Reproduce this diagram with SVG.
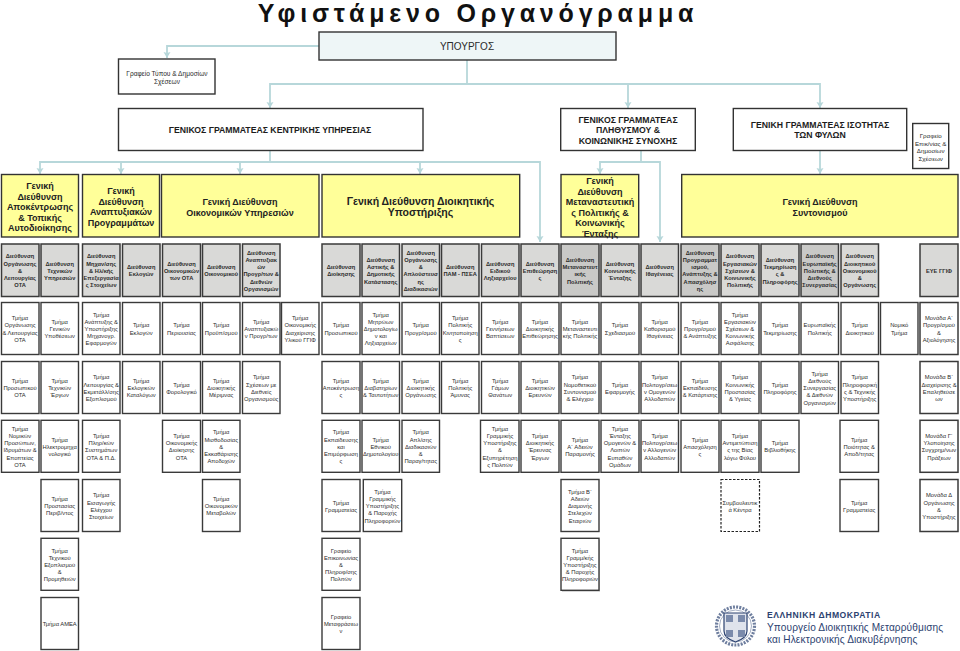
<svg xmlns="http://www.w3.org/2000/svg" width="960" height="651" viewBox="0 0 960 651">
<style>
text{font-family:"Liberation Sans",Arial,sans-serif;text-anchor:middle;fill:#2b2b2b}
.title{font-size:25px;font-weight:700;letter-spacing:4.8px;fill:#111}
.y9{font-size:9px;font-weight:700;fill:#222}
.y10{font-size:10.5px;font-weight:700;fill:#222}
.gg{font-size:8.7px;font-weight:700;fill:#1c1c1c}
.s{font-size:6.6px}
.t{font-size:5.8px}
.b{font-size:5.7px;font-weight:700}
.box{fill:#fff;stroke:#333;stroke-width:1.4}
.y{fill:#ffff99;stroke:#333;stroke-width:1.4}
.d{fill:#d9d9d7;stroke:#3a3a3a;stroke-width:1.5}
.dk{fill:#c9c9c7;stroke:#3a3a3a;stroke-width:1.5}
.r{fill:#fff;stroke:#3a3a3a;stroke-width:1.4}
.dash{fill:#fff;stroke:#222;stroke-width:1.2;stroke-dasharray:2.5 1.5}
.c{fill:none;stroke:#b7d7da;stroke-width:1.8}
.logo{text-anchor:start;fill:#2c4270}
</style>
<defs>
<marker id="a" markerUnits="userSpaceOnUse" markerWidth="8" markerHeight="8" refX="4" refY="7" orient="0" viewBox="0 0 8 8">
<path d="M.5 1L4 2L7.5 1L4 7Z" fill="#b7d7da"/>
</marker>
</defs>
<rect width="960" height="651" fill="#fff"/>
<text id="title" class="title" x="478" y="22">Υφιστάμενο Οργανόγραμμα</text>

<g id="connectors">
<path class="c" marker-end="url(#a)" d="M319 46H167V58"/>
<path class="c" d="M467 60V84"/>
<path class="c" marker-end="url(#a)" d="M467 84H270V108"/>
<path class="c" marker-end="url(#a)" d="M467 84H628V108"/>
<path class="c" marker-end="url(#a)" d="M628 84H820V108"/>
<path class="c" d="M270 150V162"/>
<path class="c" marker-end="url(#a)" d="M270 162H40V174"/>
<path class="c" marker-end="url(#a)" d="M121 162V174"/>
<path class="c" marker-end="url(#a)" d="M240 162V174"/>
<path class="c" marker-end="url(#a)" d="M270 162H420V174"/>
<path class="c" marker-end="url(#a)" d="M420 162H540V242"/>
<path class="c" d="M641 150V162"/>
<path class="c" marker-end="url(#a)" d="M641 162H600V174"/>
<path class="c" marker-end="url(#a)" d="M641 162H660V242"/>
<path class="c" marker-end="url(#a)" d="M820 150V174"/>
</g>

<g id="ypourgos"><rect x="319" y="32" width="297" height="28" fill="#eef6f7" stroke="#333" stroke-width="1.4"/><text x="467" y="50" font-size="10">ΥΠΟΥΡΓΟΣ</text></g>
<g id="press"><rect class="box" x="118.5" y="59" width="96.5" height="35"/><text class="s" x="167" y="75.5">Γραφείο Τύπου &amp; Δημοσίων<tspan x="167" dy="8">Σχέσεων</tspan></text></g>
<g id="gg-central"><rect class="box" x="118.5" y="108.5" width="304.5" height="42"/><text class="gg" x="270" y="132.5">ΓΕΝΙΚΟΣ ΓΡΑΜΜΑΤΕΑΣ ΚΕΝΤΡΙΚΗΣ ΥΠΗΡΕΣΙΑΣ</text></g>
<g id="gg-population"><rect class="box" x="560.7" y="108.5" width="134.6" height="42"/><text class="gg" x="628" y="122.5">ΓΕΝΙΚΟΣ ΓΡΑΜΜΑΤΕΑΣ<tspan x="628" dy="10.7">ΠΛΗΘΥΣΜΟΥ &amp;</tspan><tspan x="628" dy="10.7">ΚΟΙΝΩΝΙΚΗΣ ΣΥΝΟΧΗΣ</tspan></text></g>
<g id="gg-equality"><rect class="box" x="733.3" y="108.5" width="173.4" height="42"/><text class="gg" x="820" y="127.5">ΓΕΝΙΚΗ ΓΡΑΜΜΑΤΕΑΣ ΙΣΟΤΗΤΑΣ<tspan x="820" dy="10.7">ΤΩΝ ΦΥΛΩΝ</tspan></text></g>
<g id="press2"><rect class="box" x="912.7" y="123.5" width="36" height="45"/><text font-size="6.2" x="930.7" y="138">Γραφείο<tspan x="930.7" dy="7.7">Επικ/νίας &amp;</tspan><tspan x="930.7" dy="7.7">Δημοσίων</tspan><tspan x="930.7" dy="7.7">Σχέσεων</tspan></text></g>

<g id="gd1"><rect class="y" x="1.5" y="174.5" width="77" height="62.5"/><text class="y9" x="40" y="189">Γενική<tspan x="40" dy="10.5">Διεύθυνση</tspan><tspan x="40" dy="10.5">Αποκέντρωσης</tspan><tspan x="40" dy="10.5">&amp; Τοπικής</tspan><tspan x="40" dy="10.5">Αυτοδιοίκησης</tspan></text></g>
<g id="gd2"><rect class="y" x="82.5" y="174.5" width="77" height="62.5"/><text class="y9" x="121" y="194">Γενική<tspan x="121" dy="10.5">Διεύθυνση</tspan><tspan x="121" dy="10.5">Αναπτυξιακών</tspan><tspan x="121" dy="10.5">Προγραμμάτων</tspan></text></g>
<g id="gd3"><rect class="y" x="161.5" y="174.5" width="157.5" height="62.5"/><text class="y9" x="240" y="205">Γενική Διεύθυνση<tspan x="240" dy="10.5">Οικονομικών Υπηρεσιών</tspan></text></g>
<g id="gd4"><rect class="y" x="322" y="174.5" width="197.7" height="62.5"/><text class="y10" x="420.5" y="204.5">Γενική Διεύθυνση  Διοικητικής<tspan x="420.5" dy="11">Υποστήριξης</tspan></text></g>
<g id="gd5"><rect class="y" x="561" y="174.5" width="77.7" height="62.5"/><text class="y9" x="600" y="184">Γενική<tspan x="600" dy="10.5">Διεύθυνση</tspan><tspan x="600" dy="10.5">Μεταναστευτική</tspan><tspan x="600" dy="10.5">ς Πολιτικής &amp;</tspan><tspan x="600" dy="10.5">Κοινωνικής</tspan><tspan x="600" dy="10.5">Ένταξης</tspan></text></g>
<g id="gd6"><rect class="y" x="681.7" y="174.5" width="276.3" height="62.5"/><text class="y9" x="820" y="205">Γενική Διεύθυνση<tspan x="820" dy="10.5">Συντονισμού</tspan></text></g>

<g id="d1"><rect class="d" x="1.5" y="244" width="37.5" height="52.5"/><text class="b" x="20" y="258.4">Διεύθυνση<tspan x="20" dy="7.2">Οργάνωσης</tspan><tspan x="20" dy="7.2">&amp;</tspan><tspan x="20" dy="7.2">Λειτουργίας</tspan><tspan x="20" dy="7.2">ΟΤΑ</tspan></text></g>
<g id="d2"><rect class="d" x="41" y="244" width="37.5" height="52.5"/><text class="b" x="59.7" y="265.6">Διεύθυνση<tspan x="59.7" dy="7.2">Τεχνικών</tspan><tspan x="59.7" dy="7.2">Υπηρεσιών</tspan></text></g>
<g id="d3"><rect class="d" x="82.5" y="244" width="37.5" height="52.5"/><text class="b" x="101.2" y="258.4">Διεύθυνση<tspan x="101.2" dy="7.2">Μηχαν/σης</tspan><tspan x="101.2" dy="7.2">&amp; Ηλ/κής</tspan><tspan x="101.2" dy="7.2">Επεξεργασία</tspan><tspan x="101.2" dy="7.2">ς Στοιχείων</tspan></text></g>
<g id="d4"><rect class="d" x="122.5" y="244" width="37.5" height="52.5"/><text class="b" x="141.2" y="269.2">Διεύθυνση<tspan x="141.2" dy="7.2">Εκλογών</tspan></text></g>
<g id="d5"><rect class="d" x="162.5" y="244" width="38" height="52.5"/><text class="b" x="181.5" y="265.6">Διεύθυνση<tspan x="181.5" dy="7.2">Οικονομικών</tspan><tspan x="181.5" dy="7.2">των ΟΤΑ</tspan></text></g>
<g id="d6"><rect class="d" x="202.5" y="244" width="37.5" height="52.5"/><text class="b" x="221.2" y="269.2">Διεύθυνση<tspan x="221.2" dy="7.2">Οικονομικού</tspan></text></g>
<g id="d7"><rect class="d" x="242.5" y="244" width="37.5" height="52.5"/><text class="b" x="261.2" y="254.8">Διεύθυνση<tspan x="261.2" dy="7.2">Αναπτυξιακ</tspan><tspan x="261.2" dy="7.2">ών</tspan><tspan x="261.2" dy="7.2">Προγρ/των &amp;</tspan><tspan x="261.2" dy="7.2">Διεθνών</tspan><tspan x="261.2" dy="7.2">Οργανισμών</tspan></text></g>
<g id="d9"><rect class="d" x="322" y="244" width="38" height="52.5"/><text class="b" x="341" y="269.2">Διεύθυνση<tspan x="341" dy="7.2">Διοίκησης</tspan></text></g>
<g id="d10"><rect class="d" x="362" y="244" width="37.5" height="52.5"/><text class="b" x="380.7" y="262">Διεύθυνση<tspan x="380.7" dy="7.2">Αστικής &amp;</tspan><tspan x="380.7" dy="7.2">Δημοτικής</tspan><tspan x="380.7" dy="7.2">Κατάστασης</tspan></text></g>
<g id="d11"><rect class="d" x="402" y="244" width="37.5" height="52.5"/><text class="b" x="420.7" y="254.8">Διεύθυνση<tspan x="420.7" dy="7.2">Οργάνωσης</tspan><tspan x="420.7" dy="7.2">&amp;</tspan><tspan x="420.7" dy="7.2">Απλούστευσ</tspan><tspan x="420.7" dy="7.2">ης</tspan><tspan x="420.7" dy="7.2">Διαδικασιών</tspan></text></g>
<g id="d12"><rect class="d" x="441.5" y="244" width="37.5" height="52.5"/><text class="b" x="460.2" y="269.2">Διεύθυνση<tspan x="460.2" dy="7.2">ΠΑΜ - ΠΣΕΑ</tspan></text></g>
<g id="d13"><rect class="d" x="481.5" y="244" width="37.5" height="52.5"/><text class="b" x="500.2" y="265.6">Διεύθυνση<tspan x="500.2" dy="7.2">Ειδικού</tspan><tspan x="500.2" dy="7.2">Ληξιαρχείου</tspan></text></g>
<g id="d14"><rect class="d" x="521" y="244" width="38" height="52.5"/><text class="b" x="540" y="265.6">Διεύθυνση<tspan x="540" dy="7.2">Επιθεώρηση</tspan><tspan x="540" dy="7.2">ς</tspan></text></g>
<g id="d15"><rect class="dk" x="561" y="244" width="38" height="52.5"/><text class="b" x="580" y="262">Διεύθυνση<tspan x="580" dy="7.2">Μεταναστευτ</tspan><tspan x="580" dy="7.2">ικής</tspan><tspan x="580" dy="7.2">Πολιτικής</tspan></text></g>
<g id="d16"><rect class="d" x="601" y="244" width="38" height="52.5"/><text class="b" x="620" y="265.6">Διεύθυνση<tspan x="620" dy="7.2">Κοινωνικής</tspan><tspan x="620" dy="7.2">Ένταξης</tspan></text></g>
<g id="d17"><rect class="d" x="641" y="244" width="37.5" height="52.5"/><text class="b" x="659.7" y="269.2">Διεύθυνση<tspan x="659.7" dy="7.2">Ιθαγένειας</tspan></text></g>
<g id="d18"><rect class="dk" x="681" y="244" width="38" height="52.5"/><text class="b" x="700" y="254.8">Διεύθυνση<tspan x="700" dy="7.2">Προγραμματ</tspan><tspan x="700" dy="7.2">ισμού,</tspan><tspan x="700" dy="7.2">Ανάπτυξης &amp;</tspan><tspan x="700" dy="7.2">Απασχόλησ</tspan><tspan x="700" dy="7.2">ης</tspan></text></g>
<g id="d19"><rect class="d" x="721" y="244" width="38" height="52.5"/><text class="b" x="740" y="258.4">Διεύθυνση<tspan x="740" dy="7.2">Εργασιακών</tspan><tspan x="740" dy="7.2">Σχέσεων &amp;</tspan><tspan x="740" dy="7.2">Κοινωνικής</tspan><tspan x="740" dy="7.2">Πολιτικής</tspan></text></g>
<g id="d20"><rect class="d" x="761" y="244" width="38" height="52.5"/><text class="b" x="780" y="262">Διεύθυνση<tspan x="780" dy="7.2">Τεκμηρίωση</tspan><tspan x="780" dy="7.2">ς &amp;</tspan><tspan x="780" dy="7.2">Πληροφόρης</tspan></text></g>
<g id="d21"><rect class="dk" x="801" y="244" width="37.5" height="52.5"/><text class="b" x="819.7" y="258.4">Διεύθυνση<tspan x="819.7" dy="7.2">Ευρωπαϊκής</tspan><tspan x="819.7" dy="7.2">Πολιτικής &amp;</tspan><tspan x="819.7" dy="7.2">Διεθνούς</tspan><tspan x="819.7" dy="7.2">Συνεργασίας</tspan></text></g>
<g id="d22"><rect class="d" x="841" y="244" width="37.5" height="52.5"/><text class="b" x="859.7" y="258.4">Διεύθυνση<tspan x="859.7" dy="7.2">Διοικητικού</tspan><tspan x="859.7" dy="7.2">Οικονομικού</tspan><tspan x="859.7" dy="7.2">&amp;</tspan><tspan x="859.7" dy="7.2">Οργάνωσης</tspan></text></g>
<g id="d24"><rect class="d" x="920" y="244" width="38" height="52.5"/><text class="b" x="939" y="272.8">ΕΥΕ ΓΓΙΦ</text></g>

<g id="r1c1"><rect class="r" x="1.5" y="302.5" width="37.5" height="52"/><text class="t" x="20" y="320.2">Τμήμα<tspan x="20" dy="7.2">Οργάνωσης</tspan><tspan x="20" dy="7.2">&amp; Λειτουργίας</tspan><tspan x="20" dy="7.2">ΟΤΑ</tspan></text></g>
<g id="r1c2"><rect class="r" x="41" y="302.5" width="37.5" height="52"/><text class="t" x="59.7" y="323.8">Τμήμα<tspan x="59.7" dy="7.2">Γενικών</tspan><tspan x="59.7" dy="7.2">Υποθέσεων</tspan></text></g>
<g id="r1c3"><rect class="r" x="82.5" y="302.5" width="37.5" height="52"/><text class="t" x="101.2" y="316.6">Τμήμα<tspan x="101.2" dy="7.2">Ανάπτυξης &amp;</tspan><tspan x="101.2" dy="7.2">Υποστήριξης</tspan><tspan x="101.2" dy="7.2">Μηχανογρ.</tspan><tspan x="101.2" dy="7.2">Εφαρμογών</tspan></text></g>
<g id="r1c4"><rect class="r" x="122.5" y="302.5" width="37.5" height="52"/><text class="t" x="141.2" y="327.4">Τμήμα<tspan x="141.2" dy="7.2">Εκλογών</tspan></text></g>
<g id="r1c5"><rect class="r" x="162.5" y="302.5" width="38" height="52"/><text class="t" x="181.5" y="327.4">Τμήμα<tspan x="181.5" dy="7.2">Περιουσίας</tspan></text></g>
<g id="r1c6"><rect class="r" x="202.5" y="302.5" width="37.5" height="52"/><text class="t" x="221.2" y="327.4">Τμήμα<tspan x="221.2" dy="7.2">Προϋπ/σμού</tspan></text></g>
<g id="r1c7"><rect class="r" x="242.5" y="302.5" width="37.5" height="52"/><text class="t" x="261.2" y="323.8">Τμήμα<tspan x="261.2" dy="7.2">Αναπτυξιακώ</tspan><tspan x="261.2" dy="7.2">ν Προγρ/των</tspan></text></g>
<g id="r1c8"><rect class="r" x="281.5" y="302.5" width="37.5" height="52"/><text class="t" x="300.2" y="320.2">Τμήμα<tspan x="300.2" dy="7.2">Οικονομικής</tspan><tspan x="300.2" dy="7.2">Διαχείρισης</tspan><tspan x="300.2" dy="7.2">Υλικού ΓΓΙΦ</tspan></text></g>
<g id="r1c9"><rect class="r" x="322" y="302.5" width="38" height="52"/><text class="t" x="341" y="327.4">Τμήμα<tspan x="341" dy="7.2">Προσωπικού</tspan></text></g>
<g id="r1c10"><rect class="r" x="362" y="302.5" width="37.5" height="52"/><text class="t" x="380.7" y="316.6">Τμήμα<tspan x="380.7" dy="7.2">Μητρώων</tspan><tspan x="380.7" dy="7.2">Δημοτολογίω</tspan><tspan x="380.7" dy="7.2">ν και</tspan><tspan x="380.7" dy="7.2">Ληξιαρχείων</tspan></text></g>
<g id="r1c11"><rect class="r" x="402" y="302.5" width="37.5" height="52"/><text class="t" x="420.7" y="327.4">Τμήμα<tspan x="420.7" dy="7.2">Προγρ/σμού</tspan></text></g>
<g id="r1c12"><rect class="r" x="441.5" y="302.5" width="37.5" height="52"/><text class="t" x="460.2" y="320.2">Τμήμα<tspan x="460.2" dy="7.2">Πολιτικής</tspan><tspan x="460.2" dy="7.2">Κινητοποίηση</tspan><tspan x="460.2" dy="7.2">ς</tspan></text></g>
<g id="r1c13"><rect class="r" x="481.5" y="302.5" width="37.5" height="52"/><text class="t" x="500.2" y="323.8">Τμήμα<tspan x="500.2" dy="7.2">Γεννήσεων</tspan><tspan x="500.2" dy="7.2">Βαπτίσεων</tspan></text></g>
<g id="r1c14"><rect class="r" x="521" y="302.5" width="38" height="52"/><text class="t" x="540" y="323.8">Τμήμα<tspan x="540" dy="7.2">Διοικητικής</tspan><tspan x="540" dy="7.2">Επιθεώρησης</tspan></text></g>
<g id="r1c15"><rect class="r" x="561" y="302.5" width="38" height="52"/><text class="t" x="580" y="323.8">Τμήμα<tspan x="580" dy="7.2">Μεταναστευτι</tspan><tspan x="580" dy="7.2">κής Πολιτικής</tspan></text></g>
<g id="r1c16"><rect class="r" x="601" y="302.5" width="38" height="52"/><text class="t" x="620" y="327.4">Τμήμα<tspan x="620" dy="7.2">Σχεδιασμού</tspan></text></g>
<g id="r1c17"><rect class="r" x="641" y="302.5" width="37.5" height="52"/><text class="t" x="659.7" y="323.8">Τμήμα<tspan x="659.7" dy="7.2">Καθορισμού</tspan><tspan x="659.7" dy="7.2">Ιθαγένειας</tspan></text></g>
<g id="r1c18"><rect class="r" x="681" y="302.5" width="38" height="52"/><text class="t" x="700" y="323.8">Τμήμα<tspan x="700" dy="7.2">Προγρ/σμού</tspan><tspan x="700" dy="7.2">&amp; Ανάπτυξης</tspan></text></g>
<g id="r1c19"><rect class="r" x="721" y="302.5" width="38" height="52"/><text class="t" x="740" y="316.6">Τμήμα<tspan x="740" dy="7.2">Εργασιακών</tspan><tspan x="740" dy="7.2">Σχέσεων &amp;</tspan><tspan x="740" dy="7.2">Κοινωνικής</tspan><tspan x="740" dy="7.2">Ασφάλισης</tspan></text></g>
<g id="r1c20"><rect class="r" x="761" y="302.5" width="38" height="52"/><text class="t" x="780" y="327.4">Τμήμα<tspan x="780" dy="7.2">Τεκμηρίωσης</tspan></text></g>
<g id="r1c21"><rect class="r" x="801" y="302.5" width="37.5" height="52"/><text class="t" x="819.7" y="327.4">Ευρωπαϊκής<tspan x="819.7" dy="7.2">Πολιτικής</tspan></text></g>
<g id="r1c22"><rect class="r" x="841" y="302.5" width="37.5" height="52"/><text class="t" x="859.7" y="327.4">Τμήμα<tspan x="859.7" dy="7.2">Διοικητικού</tspan></text></g>
<g id="r1c23"><rect class="r" x="880.5" y="302.5" width="37.5" height="52"/><text class="t" x="899.2" y="327.4">Νομικό<tspan x="899.2" dy="7.2">Τμήμα</tspan></text></g>
<g id="r1c24"><rect class="d" style="fill:#fff" x="920" y="302.5" width="38" height="52"/><text class="t" x="939" y="320.2">Μονάδα Α΄<tspan x="939" dy="7.2">Προγρ/σμού</tspan><tspan x="939" dy="7.2">&amp;</tspan><tspan x="939" dy="7.2">Αξιολόγησης</tspan></text></g>

<g id="r2c1"><rect class="r" x="1.5" y="361.5" width="37.5" height="52"/><text class="t" x="20" y="383">Τμήμα<tspan x="20" dy="7.2">Προσωπικού</tspan><tspan x="20" dy="7.2">ΟΤΑ</tspan></text></g>
<g id="r2c2"><rect class="r" x="41" y="361.5" width="37.5" height="52"/><text class="t" x="59.7" y="383">Τμήμα<tspan x="59.7" dy="7.2">Τεχνικών</tspan><tspan x="59.7" dy="7.2">Έργων</tspan></text></g>
<g id="r2c3"><rect class="r" x="82.5" y="361.5" width="37.5" height="52"/><text class="t" x="101.2" y="379.4">Τμήμα<tspan x="101.2" dy="7.2">Λειτουργίας &amp;</tspan><tspan x="101.2" dy="7.2">Εκμετάλλ/σης</tspan><tspan x="101.2" dy="7.2">Εξοπλισμού</tspan></text></g>
<g id="r2c4"><rect class="r" x="122.5" y="361.5" width="37.5" height="52"/><text class="t" x="141.2" y="383">Τμήμα<tspan x="141.2" dy="7.2">Εκλογικών</tspan><tspan x="141.2" dy="7.2">Καταλόγων</tspan></text></g>
<g id="r2c5"><rect class="r" x="162.5" y="361.5" width="38" height="52"/><text class="t" x="181.5" y="386.6">Τμήμα<tspan x="181.5" dy="7.2">Φορολογικό</tspan></text></g>
<g id="r2c6"><rect class="r" x="202.5" y="361.5" width="37.5" height="52"/><text class="t" x="221.2" y="383">Τμήμα<tspan x="221.2" dy="7.2">Διοικητικής</tspan><tspan x="221.2" dy="7.2">Μέριμνας</tspan></text></g>
<g id="r2c7"><rect class="r" x="242.5" y="361.5" width="37.5" height="52"/><text class="t" x="261.2" y="379.4">Τμήμα<tspan x="261.2" dy="7.2">Σχέσεων με</tspan><tspan x="261.2" dy="7.2">Διεθνείς</tspan><tspan x="261.2" dy="7.2">Οργανισμούς</tspan></text></g>
<g id="r2c9"><rect class="r" x="322" y="361.5" width="38" height="52"/><text class="t" x="341" y="383">Τμήμα<tspan x="341" dy="7.2">Αποκέντρωση</tspan><tspan x="341" dy="7.2">ς</tspan></text></g>
<g id="r2c10"><rect class="r" x="362" y="361.5" width="37.5" height="52"/><text class="t" x="380.7" y="383">Τμήμα<tspan x="380.7" dy="7.2">Διαβατηρίων</tspan><tspan x="380.7" dy="7.2">&amp; Ταυτοτήτων</tspan></text></g>
<g id="r2c11"><rect class="r" x="402" y="361.5" width="37.5" height="52"/><text class="t" x="420.7" y="383">Τμήμα<tspan x="420.7" dy="7.2">Διοικητικής</tspan><tspan x="420.7" dy="7.2">Οργάνωσης</tspan></text></g>
<g id="r2c12"><rect class="r" x="441.5" y="361.5" width="37.5" height="52"/><text class="t" x="460.2" y="383">Τμήμα<tspan x="460.2" dy="7.2">Πολιτικής</tspan><tspan x="460.2" dy="7.2">Άμυνας</tspan></text></g>
<g id="r2c13"><rect class="r" x="481.5" y="361.5" width="37.5" height="52"/><text class="t" x="500.2" y="383">Τμήμα<tspan x="500.2" dy="7.2">Γάμων</tspan><tspan x="500.2" dy="7.2">Θανάτων</tspan></text></g>
<g id="r2c14"><rect class="r" x="521" y="361.5" width="38" height="52"/><text class="t" x="540" y="383">Τμήμα<tspan x="540" dy="7.2">Διοικητικών</tspan><tspan x="540" dy="7.2">Ερευνών</tspan></text></g>
<g id="r2c15"><rect class="r" x="561" y="361.5" width="38" height="52"/><text class="t" x="580" y="379.4">Τμήμα<tspan x="580" dy="7.2">Νομοθετικού</tspan><tspan x="580" dy="7.2">Συντονισμού</tspan><tspan x="580" dy="7.2">&amp; Ελέγχου</tspan></text></g>
<g id="r2c16"><rect class="r" x="601" y="361.5" width="38" height="52"/><text class="t" x="620" y="386.6">Τμήμα<tspan x="620" dy="7.2">Εφαρμογής</tspan></text></g>
<g id="r2c17"><rect class="r" x="641" y="361.5" width="37.5" height="52"/><text class="t" x="659.7" y="379.4">Τμήμα<tspan x="659.7" dy="7.2">Πολιτογρ/σεω</tspan><tspan x="659.7" dy="7.2">ν Ομογενών</tspan><tspan x="659.7" dy="7.2">Αλλοδαπών</tspan></text></g>
<g id="r2c18"><rect class="r" x="681" y="361.5" width="38" height="52"/><text class="t" x="700" y="383">Τμήμα<tspan x="700" dy="7.2">Εκπαίδευσης</tspan><tspan x="700" dy="7.2">&amp; Κατάρτισης</tspan></text></g>
<g id="r2c19"><rect class="r" x="721" y="361.5" width="38" height="52"/><text class="t" x="740" y="379.4">Τμήμα<tspan x="740" dy="7.2">Κοινωνικής</tspan><tspan x="740" dy="7.2">Προστασίας</tspan><tspan x="740" dy="7.2">&amp; Υγείας</tspan></text></g>
<g id="r2c20"><rect class="r" x="761" y="361.5" width="38" height="52"/><text class="t" x="780" y="386.6">Τμήμα<tspan x="780" dy="7.2">Πληροφόρης</tspan></text></g>
<g id="r2c21"><rect class="r" x="801" y="361.5" width="37.5" height="52"/><text class="t" x="819.7" y="375.8">Τμήμα<tspan x="819.7" dy="7.2">Διεθνούς</tspan><tspan x="819.7" dy="7.2">Συνεργασίας</tspan><tspan x="819.7" dy="7.2">&amp; Διεθνών</tspan><tspan x="819.7" dy="7.2">Οργανισμών</tspan></text></g>
<g id="r2c22"><rect class="r" x="841" y="361.5" width="37.5" height="52"/><text class="t" x="859.7" y="379.4">Τμήμα<tspan x="859.7" dy="7.2">Πληροφορική</tspan><tspan x="859.7" dy="7.2">ς &amp; Τεχνικής</tspan><tspan x="859.7" dy="7.2">Υποστήριξης</tspan></text></g>
<g id="r2c24"><rect class="d" style="fill:#fff" x="920" y="361.5" width="38" height="52"/><text class="t" x="939" y="379.4">Μονάδα Β΄<tspan x="939" dy="7.2">Διαχείρισης &amp;</tspan><tspan x="939" dy="7.2">Επαληθεύσε</tspan><tspan x="939" dy="7.2">ων</tspan></text></g>

<g id="r3c1"><rect class="r" x="1.5" y="420.3" width="37.5" height="52"/><text class="t" x="20" y="430.8">Τμήμα<tspan x="20" dy="7.2">Νομικών</tspan><tspan x="20" dy="7.2">Προσώπων,</tspan><tspan x="20" dy="7.2">Ιδρυμάτων &amp;</tspan><tspan x="20" dy="7.2">Εποπτείας</tspan><tspan x="20" dy="7.2">ΟΤΑ</tspan></text></g>
<g id="r3c2"><rect class="r" x="41" y="420.3" width="37.5" height="52"/><text class="t" x="59.7" y="441.6">Τμήμα<tspan x="59.7" dy="7.2">Ηλεκτρομηχα</tspan><tspan x="59.7" dy="7.2">νολογικό</tspan></text></g>
<g id="r3c3"><rect class="r" x="82.5" y="420.3" width="37.5" height="52"/><text class="t" x="101.2" y="438">Τμήμα<tspan x="101.2" dy="7.2">Πληρ/κών</tspan><tspan x="101.2" dy="7.2">Συστημάτων</tspan><tspan x="101.2" dy="7.2">ΟΤΑ &amp; Π.Δ.</tspan></text></g>
<g id="r3c5"><rect class="r" x="162.5" y="420.3" width="38" height="52"/><text class="t" x="181.5" y="438">Τμήμα<tspan x="181.5" dy="7.2">Οικονομικής</tspan><tspan x="181.5" dy="7.2">Διοίκησης</tspan><tspan x="181.5" dy="7.2">ΟΤΑ</tspan></text></g>
<g id="r3c6"><rect class="r" x="202.5" y="420.3" width="37.5" height="52"/><text class="t" x="221.2" y="434.4">Τμήμα<tspan x="221.2" dy="7.2">Μισθοδοσίας</tspan><tspan x="221.2" dy="7.2">&amp;</tspan><tspan x="221.2" dy="7.2">Εκκαθάρισης</tspan><tspan x="221.2" dy="7.2">Αποδοχών</tspan></text></g>
<g id="r3c9"><rect class="r" x="322" y="420.3" width="38" height="52"/><text class="t" x="341" y="434.4">Τμήμα<tspan x="341" dy="7.2">Εκπαίδευσης</tspan><tspan x="341" dy="7.2">και</tspan><tspan x="341" dy="7.2">Επιμόρφωση</tspan><tspan x="341" dy="7.2">ς</tspan></text></g>
<g id="r3c10"><rect class="r" x="362" y="420.3" width="37.5" height="52"/><text class="t" x="380.7" y="441.6">Τμήμα<tspan x="380.7" dy="7.2">Εθνικού</tspan><tspan x="380.7" dy="7.2">Δημοτολογίου</tspan></text></g>
<g id="r3c11"><rect class="r" x="402" y="420.3" width="37.5" height="52"/><text class="t" x="420.7" y="434.4">Τμήμα<tspan x="420.7" dy="7.2">Απλ/σης</tspan><tspan x="420.7" dy="7.2">Διαδικασιών</tspan><tspan x="420.7" dy="7.2">&amp;</tspan><tspan x="420.7" dy="7.2">Παραγ/τητας</tspan></text></g>
<g id="r3c13"><rect class="r" x="480.5" y="420.3" width="38.5" height="52"/><text class="t" x="500" y="430.8">Τμήμα<tspan x="500" dy="7.2">Γραμμικής</tspan><tspan x="500" dy="7.2">Υποστήριξης</tspan><tspan x="500" dy="7.2">&amp;</tspan><tspan x="500" dy="7.2">Εξυπηρέτηση</tspan><tspan x="500" dy="7.2">ς Πολιτών</tspan></text></g>
<g id="r3c14"><rect class="r" x="521" y="420.3" width="38" height="52"/><text class="t" x="540" y="438">Τμήμα<tspan x="540" dy="7.2">Διοικητικής</tspan><tspan x="540" dy="7.2">Έρευνας</tspan><tspan x="540" dy="7.2">Έργων</tspan></text></g>
<g id="r3c15"><rect class="r" x="561" y="420.3" width="38" height="52"/><text class="t" x="580" y="441.6">Τμήμα<tspan x="580" dy="7.2">Α΄ Αδειών</tspan><tspan x="580" dy="7.2">Παραμονής</tspan></text></g>
<g id="r3c16"><rect class="r" x="601" y="420.3" width="38" height="52"/><text class="t" x="620" y="430.8">Τμήμα<tspan x="620" dy="7.2">Ένταξης</tspan><tspan x="620" dy="7.2">Ομογενών &amp;</tspan><tspan x="620" dy="7.2">Λοιπών</tspan><tspan x="620" dy="7.2">Ευπαθών</tspan><tspan x="620" dy="7.2">Ομάδων</tspan></text></g>
<g id="r3c17"><rect class="r" x="641" y="420.3" width="37.5" height="52"/><text class="t" x="659.7" y="438">Τμήμα<tspan x="659.7" dy="7.2">Πολιτογρ/σεω</tspan><tspan x="659.7" dy="7.2">ν Αλλογενών</tspan><tspan x="659.7" dy="7.2">Αλλοδαπών</tspan></text></g>
<g id="r3c18"><rect class="r" x="681" y="420.3" width="38" height="52"/><text class="t" x="700" y="441.6">Τμήμα<tspan x="700" dy="7.2">Απασχόληση</tspan><tspan x="700" dy="7.2">ς</tspan></text></g>
<g id="r3c19"><rect class="r" x="721" y="420.3" width="38" height="52"/><text class="t" x="740" y="438">Τμήμα<tspan x="740" dy="7.2">Αντιμετώπιση</tspan><tspan x="740" dy="7.2">ς της Βίας</tspan><tspan x="740" dy="7.2">λόγω Φύλου</tspan></text></g>
<g id="r3c20"><rect class="r" x="761" y="420.3" width="38" height="52"/><text class="t" x="780" y="445.2">Τμήμα<tspan x="780" dy="7.2">Βιβλιοθήκης</tspan></text></g>
<g id="r3c22"><rect class="r" x="840" y="420.3" width="38.5" height="52"/><text class="t" x="859.2" y="441.6">Τμήμα<tspan x="859.2" dy="7.2">Ποιότητας &amp;</tspan><tspan x="859.2" dy="7.2">Αποδ/τητας</tspan></text></g>
<g id="r3c24"><rect class="d" style="fill:#fff" x="920" y="420.3" width="38" height="52"/><text class="t" x="939" y="438">Μονάδα Γ΄<tspan x="939" dy="7.2">Υλοποίησης</tspan><tspan x="939" dy="7.2">Συγχρημ/νων</tspan><tspan x="939" dy="7.2">Πράξεων</tspan></text></g>

<g id="r4c2"><rect class="r" x="41" y="479.5" width="37.5" height="52"/><text class="t" x="59.7" y="501">Τμήμα<tspan x="59.7" dy="7.2">Προστασίας</tspan><tspan x="59.7" dy="7.2">Περιβ/ντος</tspan></text></g>
<g id="r4c3"><rect class="r" x="82.5" y="479.5" width="37.5" height="52"/><text class="t" x="101.2" y="497.4">Τμήμα<tspan x="101.2" dy="7.2">Εισαγωγής</tspan><tspan x="101.2" dy="7.2">Ελέγχου</tspan><tspan x="101.2" dy="7.2">Στοιχείων</tspan></text></g>
<g id="r4c6"><rect class="r" x="202.5" y="479.5" width="37.5" height="52"/><text class="t" x="221.2" y="501">Τμήμα<tspan x="221.2" dy="7.2">Οικονομικών</tspan><tspan x="221.2" dy="7.2">Μεταβολών</tspan></text></g>
<g id="r4c9"><rect class="r" x="322" y="479.5" width="38" height="52"/><text class="t" x="341" y="504.6">Τμήμα<tspan x="341" dy="7.2">Γραμματείας</tspan></text></g>
<g id="r4c10"><rect class="r" x="363.3" y="479.5" width="38.4" height="52"/><text class="t" x="382.5" y="493.8">Τμήμα<tspan x="382.5" dy="7.2">Γραμμικής</tspan><tspan x="382.5" dy="7.2">Υποστήριξης</tspan><tspan x="382.5" dy="7.2">&amp; Παροχής</tspan><tspan x="382.5" dy="7.2">Πληροφοριών</tspan></text></g>
<g id="r4c15"><rect class="r" x="561" y="479.5" width="38" height="52"/><text class="t" x="580" y="493.8">Τμήμα Β΄<tspan x="580" dy="7.2">Αδειών</tspan><tspan x="580" dy="7.2">Διαμονής</tspan><tspan x="580" dy="7.2">Στελεχών</tspan><tspan x="580" dy="7.2">Εταιριών</tspan></text></g>
<g id="r4c19"><rect class="dash" x="721" y="479.5" width="38.5" height="52"/><text class="t" x="740" y="504.6">Συμβουλευτικ<tspan x="740" dy="7.2">ά Κέντρα</tspan></text></g>
<g id="r4c22"><rect class="r" x="840" y="479.5" width="38.5" height="52"/><text class="t" x="859.2" y="504.6">Τμήμα<tspan x="859.2" dy="7.2">Γραμματείας</tspan></text></g>
<g id="r4c24"><rect class="d" style="fill:#fff" x="920" y="479.5" width="38" height="52"/><text class="t" x="939" y="497.4">Μονάδα Δ<tspan x="939" dy="7.2">Οργάνωσης</tspan><tspan x="939" dy="7.2">&amp;</tspan><tspan x="939" dy="7.2">Υποστήριξης</tspan></text></g>

<g id="r5c2"><rect class="r" x="41" y="538.3" width="37.5" height="52"/><text class="t" x="59.7" y="552.6">Τμήμα<tspan x="59.7" dy="7.2">Τεχνικού</tspan><tspan x="59.7" dy="7.2">Εξοπλισμού</tspan><tspan x="59.7" dy="7.2">&amp;</tspan><tspan x="59.7" dy="7.2">Προμηθειών</tspan></text></g>
<g id="r5c9"><rect class="r" x="322" y="538.3" width="38" height="52"/><text class="t" x="341" y="552.6">Γραφείο<tspan x="341" dy="7.2">Επικοινωνίας</tspan><tspan x="341" dy="7.2">&amp;</tspan><tspan x="341" dy="7.2">Πληροφ/σης</tspan><tspan x="341" dy="7.2">Πολιτών</tspan></text></g>
<g id="r5c15"><rect x="562" y="540" width="38" height="52" fill="#bbb" opacity=".6"/><rect class="r" x="561" y="538.3" width="38" height="52"/><text class="t" x="580" y="552.6">Τμήμα<tspan x="580" dy="7.2">Γραμμ/κής</tspan><tspan x="580" dy="7.2">Υποστήριξης</tspan><tspan x="580" dy="7.2">&amp; Παροχής</tspan><tspan x="580" dy="7.2">Πληροφοριών</tspan></text></g>

<g id="r6c2"><rect class="r" x="41" y="597.5" width="37.5" height="52"/><text class="t" x="59.7" y="626">Τμήμα ΑΜΕΑ</text></g>
<g id="r6c9"><rect class="r" x="322" y="597.5" width="38" height="52"/><text class="t" x="341" y="619">Γραφείο<tspan x="341" dy="7.2">Μεταφράσεω</tspan><tspan x="341" dy="7.2">ν</tspan></text></g>

<g id="logo">
<circle cx="735.5" cy="626" r="19" fill="none" stroke="#6f7f9f" stroke-width="3.2" stroke-dasharray="2 1.2"/>
<circle cx="735.5" cy="626" r="16" fill="none" stroke="#a8b2c6" stroke-width="1"/>
<path d="M724 613H747V631Q747 638 735.5 642Q724 638 724 631Z" fill="#dfe3ec" stroke="#2c4270" stroke-width="1.2"/>
<path d="M726 615H733V622H726ZM738 615H745V622H738ZM726 630H733V637H726ZM738 630H745V637H738Z" fill="#7a8aab"/>
<text class="logo" x="767" y="618" font-size="8.6" font-weight="700" letter-spacing=".55">ΕΛΛΗΝΙΚΗ ΔΗΜΟΚΡΑΤΙΑ</text>
<text class="logo" x="767" y="630.5" font-size="10.1" letter-spacing=".12">Υπουργείο Διοικητικής Μεταρρύθμισης</text>
<text class="logo" x="767" y="642.5" font-size="10.1" letter-spacing=".12">και Ηλεκτρονικής Διακυβέρνησης</text>
</g>
</svg>
